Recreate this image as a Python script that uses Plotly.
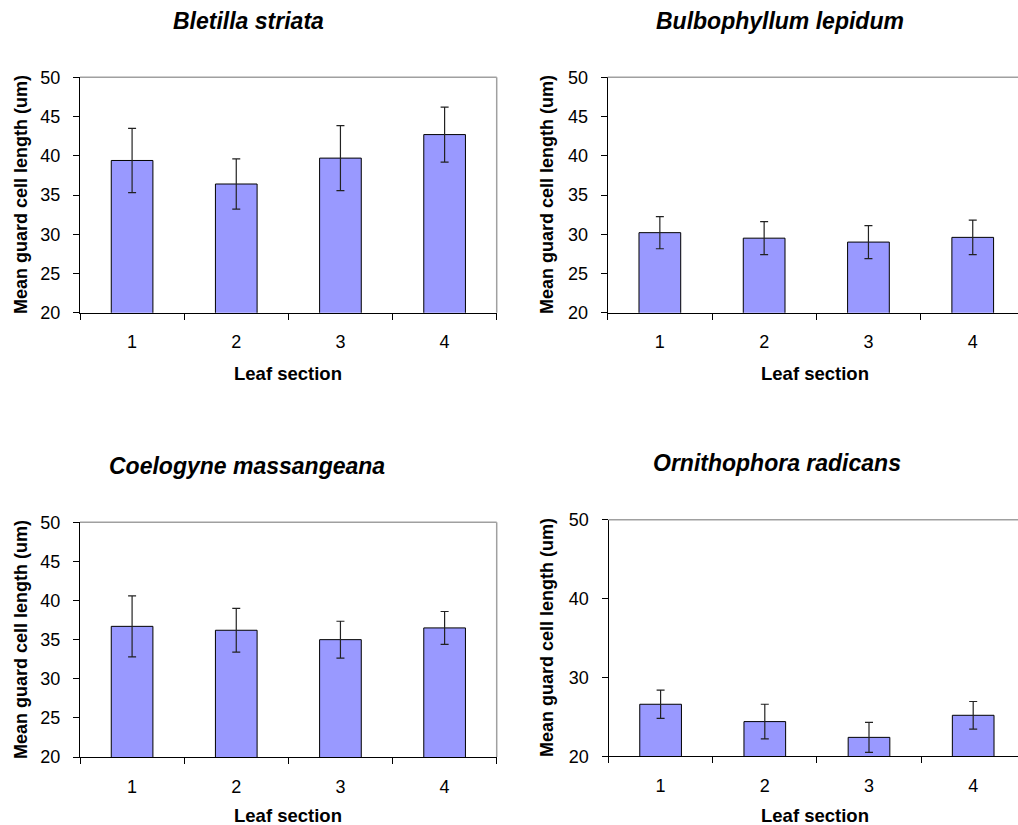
import plotly.graph_objects as go

sections = ["1", "2", "3", "4"]

titles = ["Bletilla striata", "Bulbophyllum lepidum", "Coelogyne massangeana", "Ornithophora radicans"]

bletilla_mean = [39.4, 36.4, 39.7, 42.7]
bletilla_err = [4.1, 3.2, 4.15, 3.5]
bulbo_mean = [30.2, 29.5, 29.0, 29.6]
bulbo_err = [2.05, 2.1, 2.1, 2.2]
coelo_mean = [36.7, 36.2, 35.0, 36.5]
coelo_err = [3.9, 2.8, 2.35, 2.1]
ornitho_mean = [26.6, 24.4, 22.4, 25.2]
ornitho_err = [1.8, 2.2, 1.9, 1.75]

y_ticks_a = [20, 25, 30, 35, 40, 45, 50]
y_ticks_b = [20, 30, 40, 50]

W, H = 1018, 825
FONT = "Liberation Sans, Arial, sans-serif"

def px_x(p):
    return p / W

def px_y(p):
    return 1 - p / H

panels = [
    # (mean, err, x0, x1, ytop, ybot, ticks, xrange)
    (bletilla_mean, bletilla_err, 80, 496.7, 77.3, 312.7, y_ticks_a, [-0.5, 3.5]),
    (bulbo_mean, bulbo_err, 607.7, 1018, 77.3, 312.7, y_ticks_a, [-0.5, 3.434]),
    (coelo_mean, coelo_err, 80, 496.7, 522.3, 757.0, y_ticks_a, [-0.5, 3.5]),
    (ornitho_mean, ornitho_err, 608.5, 1018, 519.7, 756.3, y_ticks_b, [-0.5, 3.43]),
]

title_pos = [(248, 21), (780, 21), (247, 466), (777, 463)]
xlabel_pos = [(288, 373), (815, 373), (288, 815), (815, 815)]
ylabel_pos = [(21, 195), (547, 195), (21, 640), (547, 638)]

fig = go.Figure()
shapes = []
annotations = []

for i, (mean, err, x0, x1, yt, yb, ticks, xr) in enumerate(panels):
    n = "" if i == 0 else str(i + 1)
    xa = "x" + n
    ya = "y" + n
    fig.add_trace(go.Bar(
        x=sections, y=mean,
        xaxis=xa, yaxis=ya,
        marker=dict(color="#9999ff", line=dict(color="#000000", width=1)),
        error_y=dict(type="data", array=err, visible=True, color="#222222", thickness=1.2, width=4),
        showlegend=False,
    ))
    fig.update_layout(**{
        "xaxis" + n: dict(
            domain=[px_x(x0), px_x(x1)], anchor=ya, type="category",
            range=xr, tickson="boundaries", ticks="outside", ticklen=6,
            tickcolor="#000", showline=True, linecolor="#000", linewidth=1,
            showgrid=False, zeroline=False, automargin=False,
            ticklabelstandoff=13,
            tickfont=dict(family=FONT, size=18, color="#000"),
            fixedrange=True,
        ),
        "yaxis" + n: dict(
            domain=[px_y(yb), px_y(yt)], anchor=xa,
            range=[20, 50], tickvals=ticks, ticks="outside", ticklen=6,
            tickcolor="#000", showline=True, linecolor="#000", linewidth=1,
            showgrid=False, zeroline=False, automargin=False,
            ticklabelstandoff=9,
            tickfont=dict(family=FONT, size=18, color="#000"),
            fixedrange=True,
        ),
    })
    # plot area border (top and right) in gray
    shapes.append(dict(type="line", xref=xa + " domain", yref=ya + " domain",
                       x0=0, x1=1, y0=1, y1=1, line=dict(color="#a0a0a0", width=1.5)))
    if i in (0, 2):
        shapes.append(dict(type="line", xref=xa + " domain", yref=ya + " domain",
                           x0=1, x1=1, y0=0, y1=1, line=dict(color="#a0a0a0", width=1.5)))
    tx, ty = title_pos[i]
    annotations.append(dict(text="<b><i>" + titles[i] + "</i></b>", x=px_x(tx), y=px_y(ty),
                            xref="paper", yref="paper", showarrow=False,
                            xanchor="center", yanchor="middle",
                            font=dict(family=FONT, size=23, color="#000")))
    lx, ly = xlabel_pos[i]
    annotations.append(dict(text="<b>Leaf section</b>", x=px_x(lx), y=px_y(ly),
                            xref="paper", yref="paper", showarrow=False,
                            xanchor="center", yanchor="middle",
                            font=dict(family=FONT, size=18.5, color="#000")))
    vx, vy = ylabel_pos[i]
    annotations.append(dict(text="<b>Mean guard cell length (um)</b>", x=px_x(vx), y=px_y(vy),
                            xref="paper", yref="paper", showarrow=False, textangle=-90,
                            xanchor="center", yanchor="middle",
                            font=dict(family=FONT, size=18, color="#000")))

fig.update_layout(
    template="none",
    width=W, height=H,
    margin=dict(l=0, r=0, t=0, b=0, pad=0, autoexpand=False),
    paper_bgcolor="white", plot_bgcolor="white",
    bargap=0.6,
    shapes=shapes,
    annotations=annotations,
)

fig.write_html(
    "out.html",
    config={"displayModeBar": False},
    post_script="document.body.style.margin='0';document.body.style.overflow='hidden';",
)
